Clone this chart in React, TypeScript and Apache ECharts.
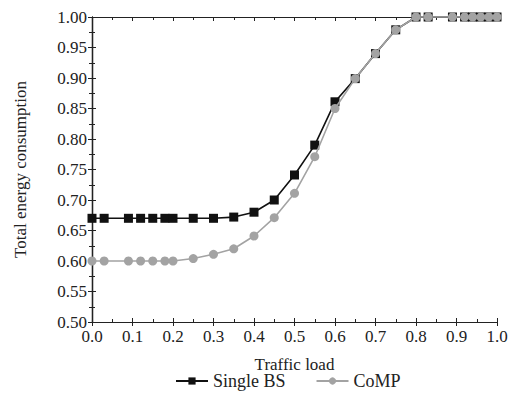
import React, { useEffect, useRef } from "react";
import * as echarts from "echarts";

const trafficLoad = [0, 0.03, 0.09, 0.12, 0.15, 0.18, 0.2, 0.25, 0.3, 0.35, 0.4, 0.45, 0.5, 0.55, 0.6, 0.65, 0.7, 0.75, 0.8, 0.83, 0.89, 0.92, 0.94, 0.96, 0.98, 1.0];
const singleBS = [0.67, 0.67, 0.67, 0.67, 0.67, 0.67, 0.67, 0.67, 0.67, 0.672, 0.68, 0.7, 0.741, 0.79, 0.861, 0.899, 0.94, 0.979, 1.0, 1.0, 1.0, 1.0, 1.0, 1.0, 1.0, 1.0];
const coMP = [0.6, 0.6, 0.6, 0.6, 0.6, 0.6, 0.6, 0.604, 0.611, 0.62, 0.641, 0.671, 0.711, 0.771, 0.85, 0.899, 0.94, 0.979, 1.0, 1.0, 1.0, 1.0, 1.0, 1.0, 1.0, 1.0];

const FONT = "Liberation Serif";

export default function App() {
  const ref = useRef<HTMLDivElement>(null);
  useEffect(() => {
    if (!ref.current) return;
    const chart = echarts.init(ref.current, null, { renderer: "svg" });
    const axisLine = { show: true, lineStyle: { color: "#222", width: 1.2 } };
    const hiddenLabel = { show: false };
    chart.setOption({
      animation: false,
      backgroundColor: "#fff",
      textStyle: { fontFamily: FONT, color: "#222" },
      grid: { left: 92, right: 15, top: 17, bottom: 76 },
      legend: {
        bottom: 3,
        left: 170,
        itemWidth: 32,
        itemHeight: 9,
        itemGap: 30,
        textStyle: { fontFamily: FONT, fontSize: 18, color: "#222" },
        data: ["Single BS", "CoMP"],
      },
      xAxis: [
        {
          type: "value",
          min: 0,
          max: 1,
          interval: 0.1,
          position: "bottom",
          name: "Traffic load",
          nameLocation: "middle",
          nameGap: 34,
          nameTextStyle: { fontFamily: FONT, fontSize: 17, color: "#222" },
          axisLine,
          axisTick: { show: true, inside: false, length: 4, lineStyle: { color: "#222" } },
          axisLabel: {
            fontFamily: FONT,
            fontSize: 17,
            color: "#222",
            margin: 6,
            formatter: (v: number) => v.toFixed(1),
          },
          splitLine: { show: false },
        },
        {
          type: "value",
          min: 0,
          max: 1,
          interval: 0.1,
          position: "bottom",
          axisLine,
          axisTick: { show: true, inside: true, length: 4, lineStyle: { color: "#222" } },
          minorTick: { show: true, splitNumber: 2, length: 3, lineStyle: { color: "#222" } },
          axisLabel: hiddenLabel,
          splitLine: { show: false },
        },
        {
          type: "value",
          min: 0,
          max: 1,
          interval: 0.1,
          position: "top",
          axisLine,
          axisTick: { show: true, inside: true, length: 4, lineStyle: { color: "#222" } },
          minorTick: { show: true, splitNumber: 2, length: 3, lineStyle: { color: "#222" } },
          axisLabel: hiddenLabel,
          splitLine: { show: false },
        },
      ],
      yAxis: [
        {
          type: "value",
          min: 0.5,
          max: 1,
          interval: 0.05,
          position: "left",
          name: "Total energy consumption",
          nameLocation: "middle",
          nameGap: 63,
          nameTextStyle: { fontFamily: FONT, fontSize: 17, color: "#222" },
          axisLine,
          axisTick: { show: true, inside: false, length: 4, lineStyle: { color: "#222" } },
          axisLabel: {
            fontFamily: FONT,
            fontSize: 17,
            color: "#222",
            margin: 5,
            formatter: (v: number) => v.toFixed(2),
          },
          splitLine: { show: false },
        },
        {
          type: "value",
          min: 0.5,
          max: 1,
          interval: 0.05,
          position: "left",
          axisLine,
          axisTick: { show: true, inside: true, length: 4, lineStyle: { color: "#222" } },
          minorTick: { show: true, splitNumber: 2, length: 3, lineStyle: { color: "#222" } },
          axisLabel: hiddenLabel,
          splitLine: { show: false },
        },
        {
          type: "value",
          min: 0.5,
          max: 1,
          interval: 0.05,
          position: "right",
          axisLine,
          axisTick: { show: true, inside: true, length: 4, lineStyle: { color: "#222" } },
          minorTick: { show: true, splitNumber: 2, length: 3, lineStyle: { color: "#222" } },
          axisLabel: hiddenLabel,
          splitLine: { show: false },
        },
      ],
      series: [
        {
          name: "Single BS",
          type: "line",
          xAxisIndex: 0,
          yAxisIndex: 0,
          data: trafficLoad.map((x, i) => [x, singleBS[i]]),
          symbol: "rect",
          symbolSize: 9,
          itemStyle: { color: "#111" },
          lineStyle: { color: "#111", width: 1.6 },
          z: 2,
        },
        {
          name: "CoMP",
          type: "line",
          xAxisIndex: 0,
          yAxisIndex: 0,
          data: trafficLoad.map((x, i) => [x, coMP[i]]),
          symbol: "circle",
          symbolSize: 9,
          itemStyle: { color: "#a3a3a3" },
          lineStyle: { color: "#a3a3a3", width: 1.6 },
          z: 3,
        },
      ],
    });
    return () => chart.dispose();
  }, []);
  return <div ref={ref} style={{ width: 512, height: 398, position: "absolute", left: 0, top: 0 }} />;
}
